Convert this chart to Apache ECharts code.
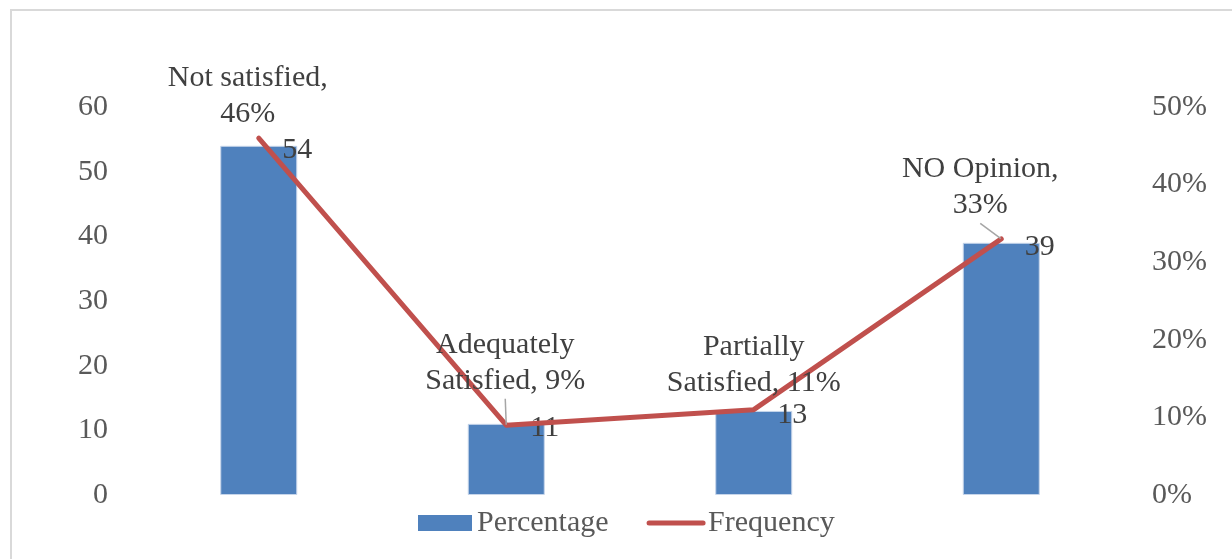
<!DOCTYPE html>
<html>
<head>
<meta charset="utf-8">
<script src="https://cdn.jsdelivr.net/npm/echarts@6/dist/echarts.min.js"></script>
<style>
  html, body { margin: 0; padding: 0; background: #ffffff; overflow: hidden; }
  #chart { position: absolute; left: 0; top: 0; width: 1232px; height: 559px; }
  #frame { position: absolute; left: 10px; top: 9px; width: 1240px; height: 570px;
           border-top: 2px solid #d9d9d9; border-left: 2px solid #d9d9d9; pointer-events: none; }
</style>
</head>
<body>
<div id="chart"></div>
<div id="frame"></div>
<script>
// Satisfaction survey: respondent counts (bars) and share of respondents (line)
const categories = ['Not satisfied', 'Adequately Satisfied', 'Partially Satisfied', 'NO Opinion'];
const lineLabelText = ['Not satisfied,\n', 'Adequately\nSatisfied, ', 'Partially\nSatisfied, ', 'NO Opinion,\n'];
const counts = [54, 11, 13, 39];
const percents = [46, 9, 11, 33];
const countTicks = { min: 0, max: 60, interval: 10 };
const percentTicks = { min: 0, max: 50, interval: 10 };

// where each percentage label sits relative to its point, and whether it gets a leader line
const labelShift = [[-11, -5], [-1, -26], [0, -8], [-21, -15]];
const withLeader = [false, true, false, true];

const FONT = '"Liberation Serif", "Times New Roman", serif';
const FS = 30;

const chart = echarts.init(document.getElementById('chart'), null, { renderer: 'canvas' });

chart.setOption({
  backgroundColor: '#ffffff',
  animation: false,
  textStyle: { fontFamily: FONT },
  grid: { left: 135, right: 107, top: 107, bottom: 64, containLabel: false },
  legend: {
    left: 418, top: 508, padding: 0,
    itemWidth: 54, itemHeight: 16, itemGap: 38,
    textStyle: { fontFamily: FONT, fontSize: FS, color: '#595959' },
    data: [
      { name: 'Percentage', icon: 'rect', itemStyle: { borderWidth: 0 } },
      { name: 'Frequency', itemStyle: { opacity: 0 }, lineStyle: { width: 5, cap: 'round' } }
    ]
  },
  xAxis: {
    type: 'category',
    data: categories,
    axisLine: { show: false },
    axisTick: { show: false },
    axisLabel: { show: false },
    splitLine: { show: false }
  },
  yAxis: [
    {
      type: 'value',
      min: countTicks.min, max: countTicks.max, interval: countTicks.interval,
      position: 'left',
      axisLine: { show: false }, axisTick: { show: false }, splitLine: { show: false },
      axisLabel: { margin: 27, fontFamily: FONT, fontSize: FS, color: '#595959' }
    },
    {
      type: 'value',
      min: percentTicks.min, max: percentTicks.max, interval: percentTicks.interval,
      position: 'right',
      axisLine: { show: false }, axisTick: { show: false }, splitLine: { show: false },
      axisLabel: { margin: 27, fontFamily: FONT, fontSize: FS, color: '#595959', formatter: '{value}%' }
    }
  ],
  series: [
    {
      name: 'Percentage',
      type: 'bar',
      yAxisIndex: 0,
      barWidth: 77,
      data: counts,
      itemStyle: { color: '#4f81bd', borderColor: '#c6d5ea', borderWidth: 1 },
      label: {
        show: true,
        position: ['100%', 0],
        offset: [0, 4],
        align: 'center',
        verticalAlign: 'middle',
        fontFamily: FONT, fontSize: FS, color: '#404040'
      },
      z: 1
    },
    {
      name: 'Frequency',
      type: 'line',
      yAxisIndex: 1,
      symbol: 'circle',
      symbolSize: 1,
      showSymbol: true,
      lineStyle: { color: '#c0504d', width: 5, cap: 'round', join: 'round' },
      itemStyle: { color: '#c0504d' },
      data: percents.map((v, i) => ({
        value: v,
        labelLine: { show: withLeader[i], lineStyle: { color: '#a6a6a6', width: 1.5 } }
      })),
      label: {
        show: true,
        position: 'top',
        distance: 0,
        align: 'center',
        verticalAlign: 'bottom',
        lineHeight: 36,
        fontFamily: FONT, fontSize: FS, color: '#404040',
        formatter: p => lineLabelText[p.dataIndex] + p.value + '%'
      },
      labelLayout: p => ({ dx: labelShift[p.dataIndex][0], dy: labelShift[p.dataIndex][1] }),
      z: 3
    }
  ]
});
</script>
</body>
</html>
